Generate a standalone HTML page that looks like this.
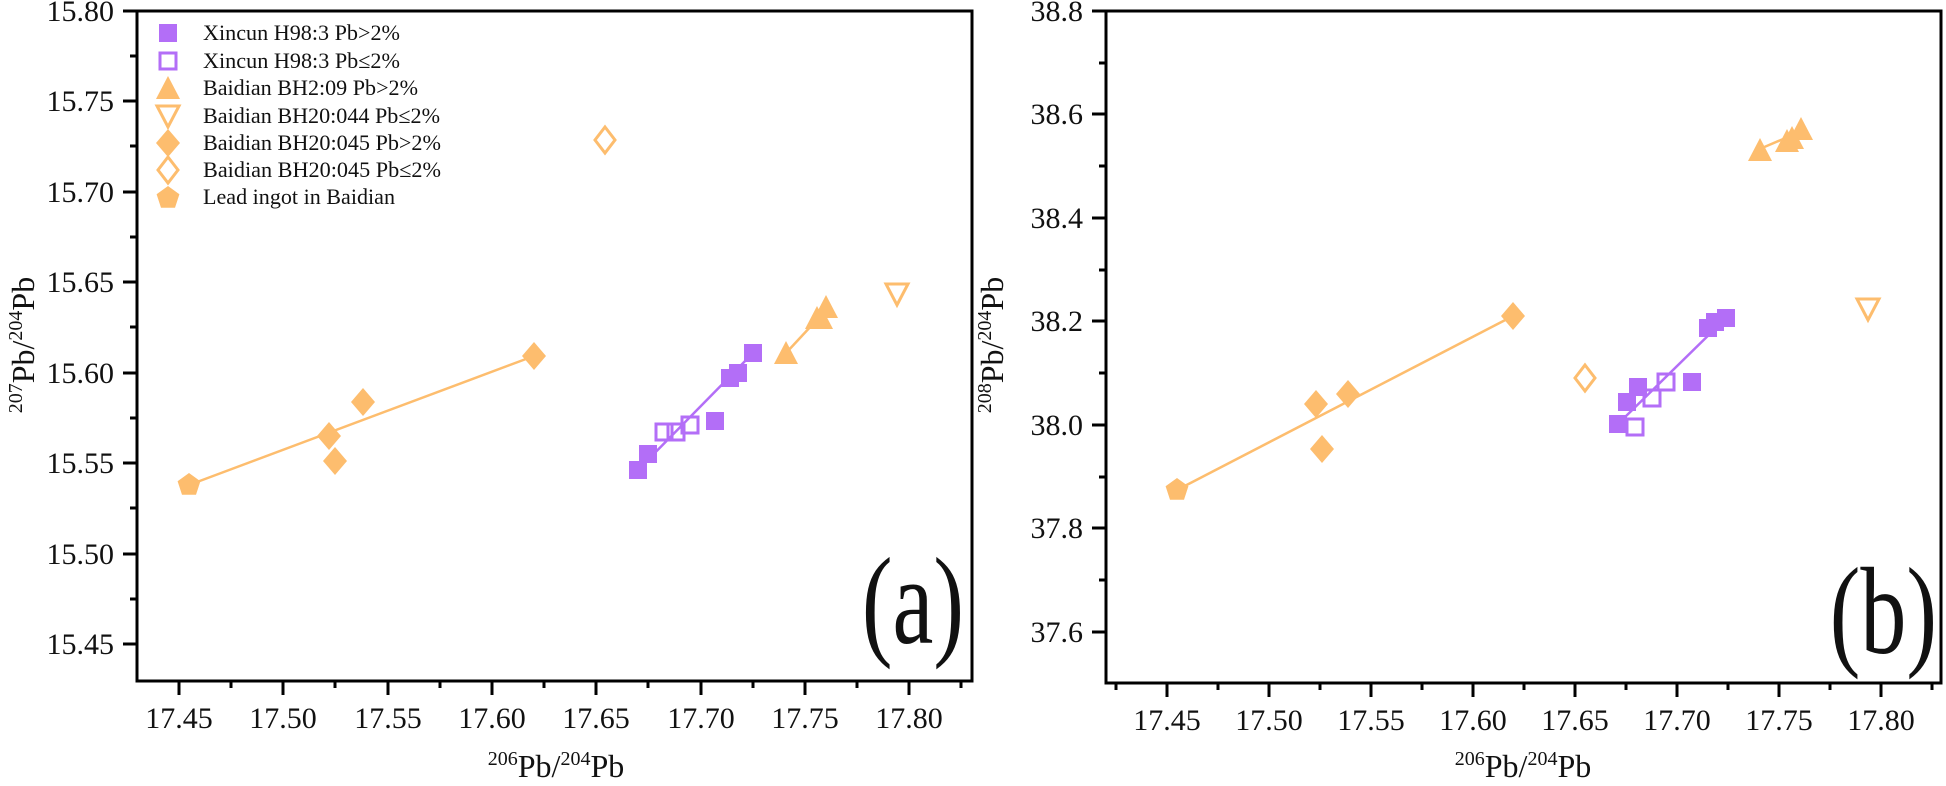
<!DOCTYPE html>
<html><head><meta charset="utf-8"><style>
html,body{margin:0;padding:0;background:#fff;}
svg{display:block;font-family:"Liberation Serif","DejaVu Serif",serif;}
svg text{font-family:"Liberation Serif","DejaVu Serif",serif !important;fill:#111;}
</style></head><body>
<svg width="1946" height="786" viewBox="0 0 1946 786" xmlns="http://www.w3.org/2000/svg" font-family="Liberation Serif, serif">
<defs>
<g id="sq"><rect x="-9" y="-9" width="18" height="18" fill="#b36ef7"/></g>
<g id="osq"><rect x="-8" y="-8" width="16" height="16" fill="none" stroke="#b36ef7" stroke-width="3"/></g>
<g id="tri"><polygon points="0,-14 -12,9 12,9" fill="#fdbd6e"/></g>
<g id="otri"><polygon points="-11,-9 11,-9 0,12" fill="none" stroke="#fdbd6e" stroke-width="3"/></g>
<g id="dia"><polygon points="0,-14 12,0 0,14 -12,0" fill="#fdbd6e"/></g>
<g id="odia"><polygon points="0,-13 10,0 0,13 -10,0" fill="none" stroke="#fdbd6e" stroke-width="3"/></g>
<g id="pen"><polygon points="0,-12 11.4,-3.7 7,9.7 -7,9.7 -11.4,-3.7" fill="#fdbd6e"/></g>
</defs>

<!-- ===== Panel (a) ===== -->
<g stroke="#000" stroke-width="3" fill="none">
<rect x="137" y="11" width="835" height="670"/>
</g>
<g stroke="#000" stroke-width="3">
<line x1="179" y1="681" x2="179" y2="695"/><line x1="283" y1="681" x2="283" y2="695"/>
<line x1="388" y1="681" x2="388" y2="695"/><line x1="492" y1="681" x2="492" y2="695"/>
<line x1="596" y1="681" x2="596" y2="695"/><line x1="701" y1="681" x2="701" y2="695"/>
<line x1="805" y1="681" x2="805" y2="695"/><line x1="909" y1="681" x2="909" y2="695"/>
<line x1="231" y1="681" x2="231" y2="688"/><line x1="335" y1="681" x2="335" y2="688"/>
<line x1="440" y1="681" x2="440" y2="688"/><line x1="544" y1="681" x2="544" y2="688"/>
<line x1="648" y1="681" x2="648" y2="688"/><line x1="753" y1="681" x2="753" y2="688"/>
<line x1="857" y1="681" x2="857" y2="688"/><line x1="961" y1="681" x2="961" y2="688"/>
<line x1="123" y1="644" x2="137" y2="644"/><line x1="123" y1="554" x2="137" y2="554"/>
<line x1="123" y1="463" x2="137" y2="463"/><line x1="123" y1="373" x2="137" y2="373"/>
<line x1="123" y1="282" x2="137" y2="282"/><line x1="123" y1="192" x2="137" y2="192"/>
<line x1="123" y1="101" x2="137" y2="101"/><line x1="123" y1="11" x2="137" y2="11"/>
<line x1="130" y1="599" x2="137" y2="599"/><line x1="130" y1="508" x2="137" y2="508"/>
<line x1="130" y1="418" x2="137" y2="418"/><line x1="130" y1="327" x2="137" y2="327"/>
<line x1="130" y1="237" x2="137" y2="237"/><line x1="130" y1="146" x2="137" y2="146"/>
<line x1="130" y1="56" x2="137" y2="56"/>
</g>
<g font-size="30" text-anchor="middle" font-family="Liberation Serif, serif">
<text x="179" y="728">17.45</text><text x="283" y="728">17.50</text>
<text x="388" y="728">17.55</text><text x="492" y="728">17.60</text>
<text x="596" y="728">17.65</text><text x="701" y="728">17.70</text>
<text x="805" y="728">17.75</text><text x="909" y="728">17.80</text>
</g>
<g font-size="30" text-anchor="end" font-family="Liberation Serif, serif">
<text x="114" y="654">15.45</text><text x="114" y="564">15.50</text>
<text x="114" y="473">15.55</text><text x="114" y="383">15.60</text>
<text x="114" y="292">15.65</text><text x="114" y="202">15.70</text>
<text x="114" y="111">15.75</text><text x="114" y="21">15.80</text>
</g>
<text x="556" y="777" font-size="32" text-anchor="middle" font-family="Liberation Serif, serif"><tspan font-size="20" dy="-12">206</tspan><tspan dy="12">Pb/</tspan><tspan font-size="20" dy="-12">204</tspan><tspan dy="12">Pb</tspan></text>
<text transform="translate(34,345) rotate(-90)" font-size="32" text-anchor="middle" font-family="Liberation Serif, serif"><tspan font-size="20" dy="-12">207</tspan><tspan dy="12">Pb/</tspan><tspan font-size="20" dy="-12">204</tspan><tspan dy="12">Pb</tspan></text>
<text transform="translate(964,643) scale(1,1.35)" font-size="92" text-anchor="end" font-family="Liberation Serif, serif">(a)</text>

<use href="#sq" x="168" y="33"/>
<use href="#osq" x="168" y="61"/>
<use href="#tri" x="168" y="90"/>
<use href="#otri" x="168" y="115"/>
<use href="#dia" x="168" y="143"/>
<use href="#odia" x="168" y="170"/>
<use href="#pen" x="168" y="198"/>
<g font-size="22" font-family="Liberation Serif, serif">
<text x="203" y="40" textLength="197" lengthAdjust="spacingAndGlyphs">Xincun H98:3 Pb&gt;2%</text>
<text x="203" y="68" textLength="197" lengthAdjust="spacingAndGlyphs">Xincun H98:3 Pb≤2%</text>
<text x="203" y="95" textLength="215" lengthAdjust="spacingAndGlyphs">Baidian BH2:09 Pb&gt;2%</text>
<text x="203" y="123" textLength="237" lengthAdjust="spacingAndGlyphs">Baidian BH20:044 Pb≤2%</text>
<text x="203" y="150" textLength="238" lengthAdjust="spacingAndGlyphs">Baidian BH20:045 Pb&gt;2%</text>
<text x="203" y="177" textLength="238" lengthAdjust="spacingAndGlyphs">Baidian BH20:045 Pb≤2%</text>
<text x="203" y="204" textLength="192" lengthAdjust="spacingAndGlyphs">Lead ingot in Baidian</text>
</g>

<line x1="189" y1="485" x2="534" y2="356" stroke="#fdbd6e" stroke-width="2.5"/>
<line x1="638" y1="470" x2="753" y2="353" stroke="#b36ef7" stroke-width="2.5"/>
<line x1="786" y1="353" x2="826" y2="310" stroke="#fdbd6e" stroke-width="2.5"/>
<use href="#pen" x="189" y="485"/>
<use href="#dia" x="329" y="436"/><use href="#dia" x="363" y="402"/>
<use href="#dia" x="335" y="461"/><use href="#dia" x="534" y="356"/>
<use href="#odia" x="605" y="140"/>
<use href="#sq" x="638" y="470"/><use href="#sq" x="648" y="454"/>
<use href="#sq" x="715" y="421"/><use href="#sq" x="730" y="378"/>
<use href="#sq" x="738" y="373"/><use href="#sq" x="753" y="353"/>
<use href="#osq" x="664" y="432"/><use href="#osq" x="676" y="432"/><use href="#osq" x="690" y="425"/>
<use href="#tri" x="786" y="355"/><use href="#tri" x="817" y="320"/>
<use href="#tri" x="821" y="320"/><use href="#tri" x="826" y="309"/>
<use href="#otri" x="897" y="293"/>

<!-- ===== Panel (b) ===== -->
<g stroke="#000" stroke-width="3" fill="none">
<rect x="1106" y="11" width="835" height="672"/>
</g>
<g stroke="#000" stroke-width="3">
<line x1="1167" y1="683" x2="1167" y2="697"/><line x1="1269" y1="683" x2="1269" y2="697"/>
<line x1="1371" y1="683" x2="1371" y2="697"/><line x1="1473" y1="683" x2="1473" y2="697"/>
<line x1="1575" y1="683" x2="1575" y2="697"/><line x1="1677" y1="683" x2="1677" y2="697"/>
<line x1="1779" y1="683" x2="1779" y2="697"/><line x1="1881" y1="683" x2="1881" y2="697"/>
<line x1="1116" y1="683" x2="1116" y2="690"/><line x1="1218" y1="683" x2="1218" y2="690"/>
<line x1="1320" y1="683" x2="1320" y2="690"/><line x1="1422" y1="683" x2="1422" y2="690"/>
<line x1="1524" y1="683" x2="1524" y2="690"/><line x1="1626" y1="683" x2="1626" y2="690"/>
<line x1="1728" y1="683" x2="1728" y2="690"/><line x1="1830" y1="683" x2="1830" y2="690"/>
<line x1="1932" y1="683" x2="1932" y2="690"/>
<line x1="1092" y1="632" x2="1106" y2="632"/><line x1="1092" y1="528" x2="1106" y2="528"/>
<line x1="1092" y1="425" x2="1106" y2="425"/><line x1="1092" y1="321" x2="1106" y2="321"/>
<line x1="1092" y1="218" x2="1106" y2="218"/><line x1="1092" y1="114" x2="1106" y2="114"/>
<line x1="1092" y1="11" x2="1106" y2="11"/>
<line x1="1099" y1="580" x2="1106" y2="580"/><line x1="1099" y1="477" x2="1106" y2="477"/>
<line x1="1099" y1="373" x2="1106" y2="373"/><line x1="1099" y1="270" x2="1106" y2="270"/>
<line x1="1099" y1="166" x2="1106" y2="166"/><line x1="1099" y1="63" x2="1106" y2="63"/>
</g>
<g font-size="30" text-anchor="middle" font-family="Liberation Serif, serif">
<text x="1167" y="730">17.45</text><text x="1269" y="730">17.50</text>
<text x="1371" y="730">17.55</text><text x="1473" y="730">17.60</text>
<text x="1575" y="730">17.65</text><text x="1677" y="730">17.70</text>
<text x="1779" y="730">17.75</text><text x="1881" y="730">17.80</text>
</g>
<g font-size="30" text-anchor="end" font-family="Liberation Serif, serif">
<text x="1083" y="642">37.6</text><text x="1083" y="538">37.8</text>
<text x="1083" y="435">38.0</text><text x="1083" y="331">38.2</text>
<text x="1083" y="228">38.4</text><text x="1083" y="124">38.6</text>
<text x="1083" y="21">38.8</text>
</g>
<text x="1523" y="777" font-size="32" text-anchor="middle" font-family="Liberation Serif, serif"><tspan font-size="20" dy="-12">206</tspan><tspan dy="12">Pb/</tspan><tspan font-size="20" dy="-12">204</tspan><tspan dy="12">Pb</tspan></text>
<text transform="translate(1003,345) rotate(-90)" font-size="32" text-anchor="middle" font-family="Liberation Serif, serif"><tspan font-size="20" dy="-12">208</tspan><tspan dy="12">Pb/</tspan><tspan font-size="20" dy="-12">204</tspan><tspan dy="12">Pb</tspan></text>
<text transform="translate(1937,653) scale(1,1.35)" font-size="92" text-anchor="end" font-family="Liberation Serif, serif">(b)</text>

<line x1="1177" y1="490" x2="1513" y2="316" stroke="#fdbd6e" stroke-width="2.5"/>
<line x1="1622" y1="420" x2="1722" y2="322" stroke="#b36ef7" stroke-width="2.5"/>
<line x1="1762" y1="148" x2="1795" y2="134" stroke="#fdbd6e" stroke-width="2.5"/>
<use href="#pen" x="1177" y="490"/>
<use href="#dia" x="1316" y="404"/><use href="#dia" x="1348" y="394"/>
<use href="#dia" x="1322" y="449"/><use href="#dia" x="1513" y="316"/>
<use href="#odia" x="1585" y="378"/>
<use href="#sq" x="1618" y="424"/><use href="#sq" x="1627" y="402"/>
<use href="#sq" x="1638" y="387"/><use href="#sq" x="1692" y="382"/>
<use href="#sq" x="1708" y="328"/><use href="#sq" x="1715" y="322"/><use href="#sq" x="1726" y="318"/>
<use href="#osq" x="1635" y="427"/><use href="#osq" x="1652" y="398"/><use href="#osq" x="1666" y="382"/>
<use href="#tri" x="1760" y="152"/><use href="#tri" x="1787" y="143"/>
<use href="#tri" x="1792" y="140"/><use href="#tri" x="1801" y="131"/>
<use href="#otri" x="1868" y="308"/>
</svg>
</body></html>
